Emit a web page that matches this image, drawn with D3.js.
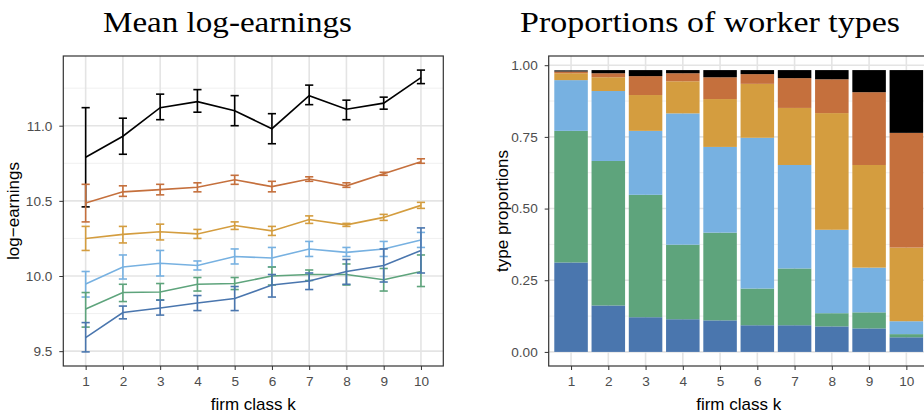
<!DOCTYPE html>
<html>
<head>
<meta charset="utf-8">
<script src="https://cdn.jsdelivr.net/npm/d3@7"></script>
<style>
  body { margin: 0; background: #fff; }
  svg { display: block; }
  .tick text { font-family: "Liberation Sans", Arial, sans-serif; font-size: 13.6px; fill: #4d4d4d; }
  .tick line { stroke: #333; }
  .domain { display: none; }
  .axis-title { font-family: "Liberation Sans", Arial, sans-serif; font-size: 17px; fill: #000; }
  .title { font-family: "Liberation Serif", "DejaVu Serif", serif; font-size: 30px; fill: #000; }
</style>
</head>
<body>
<div id="chart"></div>
<script>
// firm classes
const classes = [1, 2, 3, 4, 5, 6, 7, 8, 9, 10];
const typeColors = ['#4a76ae', '#5ea47c', '#77b1e1', '#d49d3f', '#c5703d', '#000000'];

// mean log-earnings by worker type (with error bar bounds)
const mean1 = [9.59, 9.757, 9.787, 9.82, 9.85, 9.94, 9.967, 10.03, 10.07, 10.17];
const lo1 = [9.495, 9.715, 9.74, 9.77, 9.77, 9.86, 9.91, 9.945, 9.96, 10.02];
const hi1 = [9.69, 9.80, 9.84, 9.87, 9.93, 10.01, 10.02, 10.11, 10.18, 10.32];

const mean2 = [9.78, 9.89, 9.894, 9.945, 9.95, 10.0, 10.01, 10.01, 9.975, 10.03];
const lo2 = [9.66, 9.83, 9.84, 9.90, 9.91, 9.94, 9.97, 9.94, 9.90, 9.93];
const hi2 = [9.89, 9.945, 9.95, 9.99, 9.99, 10.06, 10.04, 10.08, 10.05, 10.14];

const mean3 = [9.947, 10.06, 10.085, 10.07, 10.13, 10.12, 10.18, 10.157, 10.18, 10.24];
const lo3 = [9.86, 9.98, 10.0, 10.04, 10.08, 10.06, 10.13, 10.13, 10.13, 10.19];
const hi3 = [10.03, 10.14, 10.17, 10.10, 10.18, 10.19, 10.23, 10.19, 10.23, 10.29];

const mean4 = [10.25, 10.277, 10.294, 10.28, 10.336, 10.30, 10.376, 10.34, 10.39, 10.47];
const lo4 = [10.17, 10.22, 10.24, 10.25, 10.31, 10.27, 10.35, 10.33, 10.37, 10.45];
const hi4 = [10.33, 10.33, 10.345, 10.31, 10.36, 10.33, 10.40, 10.35, 10.41, 10.49];

const mean5 = [10.486, 10.56, 10.575, 10.59, 10.64, 10.595, 10.645, 10.60, 10.68, 10.76];
const lo5 = [10.36, 10.53, 10.54, 10.56, 10.61, 10.56, 10.63, 10.59, 10.67, 10.75];
const hi5 = [10.61, 10.60, 10.61, 10.62, 10.67, 10.63, 10.66, 10.62, 10.69, 10.78];

const mean6 = [10.79, 10.93, 11.12, 11.16, 11.10, 10.98, 11.20, 11.11, 11.15, 11.32];
const lo6 = [10.46, 10.81, 11.04, 11.09, 11.00, 10.88, 11.14, 11.04, 11.11, 11.28];
const hi6 = [11.12, 11.05, 11.21, 11.24, 11.20, 11.08, 11.27, 11.17, 11.19, 11.37];

// proportions of worker types within each firm class
const prop1 = [0.312, 0.162, 0.121, 0.114, 0.110, 0.093, 0.093, 0.089, 0.082, 0.051];
const prop2 = [0.459, 0.504, 0.427, 0.260, 0.306, 0.128, 0.198, 0.046, 0.056, 0.011];
const prop3 = [0.177, 0.244, 0.223, 0.458, 0.299, 0.526, 0.361, 0.291, 0.156, 0.045];
const prop4 = [0.024, 0.048, 0.125, 0.112, 0.167, 0.188, 0.199, 0.407, 0.358, 0.257];
const prop5 = [0.006, 0.014, 0.066, 0.028, 0.076, 0.034, 0.104, 0.118, 0.254, 0.400];
const prop6 = [0.004, 0.011, 0.021, 0.011, 0.025, 0.014, 0.028, 0.032, 0.077, 0.219];

const earnTicks = [9.5, 10.0, 10.5, 11.0];
const earnMinor = [9.75, 10.25, 10.75, 11.25];
const propTicks = [0, 0.25, 0.5, 0.75, 1];
const propMinor = [0.125, 0.375, 0.625, 0.875];

const W = 924, H = 414;
const svg = d3.select('#chart').append('svg').attr('width', W).attr('height', H);

const plotTop = 56, plotBottom = 366;
const leftPanel = { x0: 63.3, x1: 443.3 };
const rightPanel = { x0: 548.7, x1: 928.7 };

const expand = (lo, hi) => { const r = hi - lo; return [lo - r * 0.05, hi + r * 0.05]; };

function grid(g, x, y, xs, majors, minors, x0, x1) {
  g.selectAll('.gmin').data(minors).enter().append('line')
    .attr('x1', x0).attr('x2', x1).attr('y1', d => y(d)).attr('y2', d => y(d))
    .attr('stroke', '#f0f0f0').attr('stroke-width', 1);
  g.selectAll('.gmaj').data(majors).enter().append('line')
    .attr('x1', x0).attr('x2', x1).attr('y1', d => y(d)).attr('y2', d => y(d))
    .attr('stroke', '#e4e4e4').attr('stroke-width', 1.6);
  g.selectAll('.gv').data(xs).enter().append('line')
    .attr('x1', d => x(d)).attr('x2', d => x(d)).attr('y1', plotTop).attr('y2', plotBottom)
    .attr('stroke', '#e4e4e4').attr('stroke-width', 1.6);
}

function axes(x, y, yTicks, fmt, panel) {
  svg.append('g').attr('class', 'axis')
    .attr('transform', `translate(0,${plotBottom})`)
    .call(d3.axisBottom(x).tickValues(classes).tickSize(4).tickPadding(6).tickFormat(d3.format('d')));
  svg.append('g').attr('class', 'axis')
    .attr('transform', `translate(${panel.x0},0)`)
    .call(d3.axisLeft(y).tickValues(yTicks).tickSize(4).tickPadding(7).tickFormat(fmt));
  svg.append('rect').attr('x', panel.x0).attr('y', plotTop)
    .attr('width', panel.x1 - panel.x0).attr('height', plotBottom - plotTop)
    .attr('fill', 'none').attr('stroke', '#333').attr('stroke-width', 1.2);
}

// ---------- left: mean log-earnings ----------
const means = [mean1, mean2, mean3, mean4, mean5, mean6];
const los = [lo1, lo2, lo3, lo4, lo5, lo6];
const his = [hi1, hi2, hi3, hi4, hi5, hi6];

const xL = d3.scaleLinear().domain([0.4, 10.6]).range([leftPanel.x0, leftPanel.x1]);
const yL = d3.scaleLinear()
  .domain(expand(d3.min(los.flat()), d3.max(his.flat())))
  .range([plotBottom, plotTop]);

const gL = svg.append('g');
grid(gL, xL, yL, classes, earnTicks, earnMinor, leftPanel.x0, leftPanel.x1);

const line = d3.line().x((d, i) => xL(classes[i])).y(d => yL(d));
const cap = 0.11;
for (let t = 5; t >= 0; t--) {
  const col = typeColors[t];
  const g = gL.append('g').attr('stroke', col).attr('stroke-width', 1.6).attr('fill', 'none');
  g.append('path').attr('d', line(means[t]));
  classes.forEach((k, i) => {
    g.append('line').attr('x1', xL(k)).attr('x2', xL(k))
      .attr('y1', yL(los[t][i])).attr('y2', yL(his[t][i]));
    [los[t][i], his[t][i]].forEach(v => {
      g.append('line').attr('x1', xL(k - cap)).attr('x2', xL(k + cap))
        .attr('y1', yL(v)).attr('y2', yL(v));
    });
  });
}
axes(xL, yL, earnTicks, d3.format('.1f'), leftPanel);

svg.append('text').attr('class', 'axis-title')
  .attr('transform', `translate(19,${(plotTop + plotBottom) / 2}) rotate(-90)`)
  .attr('text-anchor', 'middle').text('log\u2212earnings');
svg.append('text').attr('class', 'axis-title')
  .attr('x', (leftPanel.x0 + leftPanel.x1) / 2).attr('y', 410)
  .attr('text-anchor', 'middle').text('firm class k');
svg.append('text').attr('class', 'title')
  .attr('x', 103).attr('y', 32)
  .attr('textLength', 249).attr('lengthAdjust', 'spacingAndGlyphs')
  .text('Mean log-earnings');

// ---------- right: proportions of worker types ----------
const props = [prop1, prop2, prop3, prop4, prop5, prop6];
const rows = classes.map((k, i) => {
  const r = { k };
  props.forEach((p, t) => { r['t' + t] = p[i]; });
  return r;
});
const keys = props.map((p, t) => 't' + t);
const stacked = d3.stack().keys(keys)(rows);

const xR = d3.scaleLinear().domain([0.4, 10.6]).range([rightPanel.x0, rightPanel.x1]);
const yR = d3.scaleLinear()
  .domain(expand(0, d3.max(rows, r => d3.sum(keys, key => r[key]))))
  .range([plotBottom, plotTop]);

const gR = svg.append('g');
grid(gR, xR, yR, classes, propTicks, propMinor, rightPanel.x0, rightPanel.x1);

gR.selectAll('.layer').data(stacked).enter().append('g')
  .attr('fill', (d, t) => typeColors[t])
  .selectAll('rect').data(d => d).enter().append('rect')
  .attr('x', d => xR(d.data.k - 0.45))
  .attr('width', xR(0.9) - xR(0))
  .attr('y', d => yR(d[1]))
  .attr('height', d => yR(d[0]) - yR(d[1]));

axes(xR, yR, propTicks, d3.format('.2f'), rightPanel);

svg.append('text').attr('class', 'axis-title')
  .attr('transform', `translate(508,${(plotTop + plotBottom) / 2}) rotate(-90)`)
  .attr('text-anchor', 'middle').text('type proportions');
svg.append('text').attr('class', 'axis-title')
  .attr('x', (rightPanel.x0 + rightPanel.x1) / 2).attr('y', 410)
  .attr('text-anchor', 'middle').text('firm class k');
svg.append('text').attr('class', 'title')
  .attr('x', 520).attr('y', 32)
  .attr('textLength', 380).attr('lengthAdjust', 'spacingAndGlyphs')
  .text('Proportions of worker types');
</script>
</body>
</html>
